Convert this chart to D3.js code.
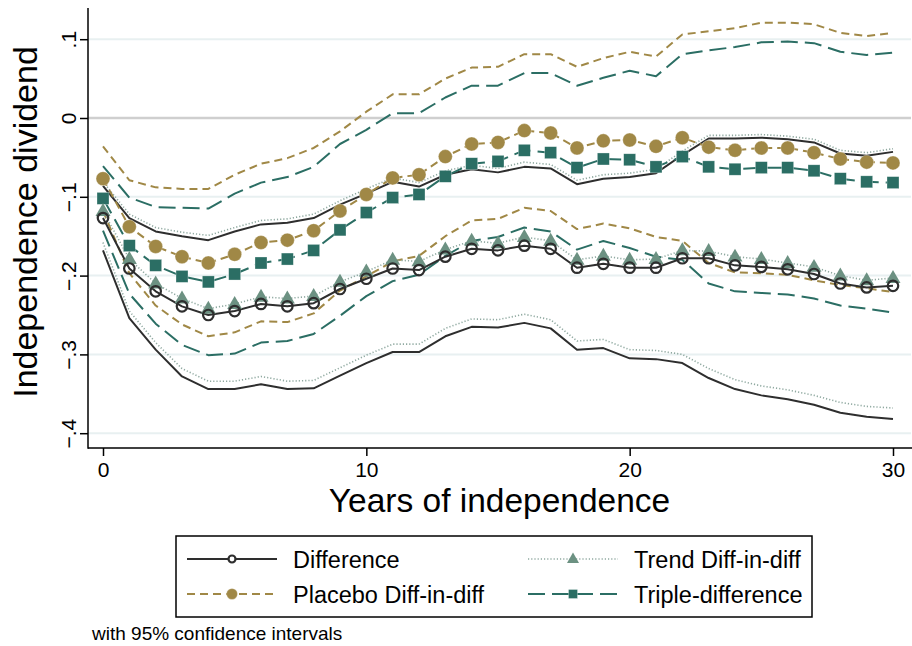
<!DOCTYPE html>
<html><head><meta charset="utf-8">
<script src="https://cdn.jsdelivr.net/npm/d3@7"></script>
<style>body{margin:0;background:#fff}svg{display:block;font-family:"Liberation Sans",Arial,Helvetica,sans-serif}</style>
</head><body><svg id="c" width="912" height="646"></svg>
<script>
const years = [0,1,2,3,4,5,6,7,8,9,10,11,12,13,14,15,16,17,18,19,20,21,22,23,24,25,26,27,28,29,30];
const yTicks = [-0.4,-0.3,-0.2,-0.1,0,0.1];
const xTicks = [0,10,20,30];

const diffEst = [-0.127,-0.191,-0.220,-0.239,-0.250,-0.245,-0.236,-0.239,-0.235,-0.217,-0.204,-0.191,-0.193,-0.176,-0.166,-0.168,-0.162,-0.166,-0.190,-0.185,-0.190,-0.190,-0.178,-0.178,-0.187,-0.189,-0.192,-0.198,-0.210,-0.215,-0.213];
const diffHi  = [-0.086,-0.127,-0.144,-0.150,-0.155,-0.144,-0.135,-0.133,-0.127,-0.110,-0.096,-0.081,-0.087,-0.072,-0.065,-0.069,-0.062,-0.064,-0.084,-0.077,-0.075,-0.070,-0.047,-0.026,-0.026,-0.025,-0.027,-0.031,-0.045,-0.048,-0.043];
const diffLo  = [-0.168,-0.254,-0.294,-0.328,-0.344,-0.344,-0.338,-0.344,-0.343,-0.327,-0.311,-0.297,-0.297,-0.277,-0.265,-0.266,-0.260,-0.267,-0.294,-0.292,-0.305,-0.306,-0.311,-0.330,-0.344,-0.352,-0.357,-0.364,-0.374,-0.379,-0.382];

const trendEst = [-0.118,-0.179,-0.210,-0.229,-0.242,-0.236,-0.227,-0.229,-0.226,-0.208,-0.195,-0.180,-0.182,-0.167,-0.156,-0.159,-0.151,-0.156,-0.180,-0.175,-0.180,-0.179,-0.168,-0.169,-0.176,-0.179,-0.184,-0.189,-0.200,-0.206,-0.203];
const trendHi  = [-0.081,-0.122,-0.139,-0.145,-0.149,-0.139,-0.130,-0.128,-0.122,-0.105,-0.090,-0.076,-0.082,-0.067,-0.060,-0.064,-0.056,-0.059,-0.079,-0.072,-0.070,-0.065,-0.042,-0.022,-0.022,-0.021,-0.023,-0.027,-0.041,-0.044,-0.039];
const trendLo  = [-0.158,-0.245,-0.285,-0.318,-0.334,-0.334,-0.328,-0.334,-0.333,-0.317,-0.301,-0.287,-0.287,-0.267,-0.255,-0.256,-0.249,-0.256,-0.283,-0.281,-0.294,-0.295,-0.300,-0.318,-0.332,-0.340,-0.345,-0.352,-0.361,-0.366,-0.368];

const placEst = [-0.077,-0.138,-0.163,-0.176,-0.184,-0.173,-0.158,-0.155,-0.143,-0.118,-0.097,-0.076,-0.072,-0.049,-0.033,-0.031,-0.016,-0.019,-0.038,-0.029,-0.028,-0.036,-0.025,-0.037,-0.041,-0.038,-0.038,-0.044,-0.052,-0.056,-0.057];
const placHi  = [-0.036,-0.079,-0.088,-0.090,-0.090,-0.072,-0.058,-0.051,-0.038,-0.017,0.008,0.030,0.030,0.050,0.064,0.065,0.081,0.081,0.065,0.076,0.084,0.078,0.106,0.110,0.114,0.121,0.121,0.119,0.108,0.104,0.108];
const placLo  = [-0.118,-0.197,-0.238,-0.262,-0.277,-0.272,-0.258,-0.259,-0.248,-0.219,-0.201,-0.182,-0.175,-0.150,-0.130,-0.128,-0.114,-0.118,-0.141,-0.134,-0.140,-0.151,-0.156,-0.184,-0.196,-0.197,-0.199,-0.206,-0.212,-0.216,-0.221];

const tripEst = [-0.102,-0.162,-0.187,-0.201,-0.208,-0.198,-0.184,-0.179,-0.168,-0.142,-0.120,-0.101,-0.097,-0.074,-0.058,-0.055,-0.041,-0.044,-0.063,-0.052,-0.053,-0.062,-0.049,-0.062,-0.065,-0.063,-0.063,-0.067,-0.077,-0.081,-0.082];
const tripHi  = [-0.061,-0.101,-0.113,-0.114,-0.115,-0.096,-0.082,-0.075,-0.062,-0.033,-0.015,0.006,0.006,0.026,0.041,0.041,0.057,0.057,0.041,0.051,0.060,0.053,0.081,0.086,0.090,0.096,0.097,0.095,0.084,0.080,0.083];
const tripLo  = [-0.143,-0.223,-0.261,-0.288,-0.301,-0.299,-0.285,-0.283,-0.274,-0.251,-0.226,-0.207,-0.199,-0.175,-0.156,-0.151,-0.139,-0.144,-0.167,-0.156,-0.165,-0.176,-0.180,-0.210,-0.220,-0.222,-0.224,-0.229,-0.238,-0.242,-0.247];

const seriesNames = ["Difference","Trend Diff-in-diff","Placebo Diff-in-diff","Triple-difference"];

const svg = d3.select("#c");
const x = d3.scaleLinear().domain([0,30]).range([103,893]);
const y = d3.scaleLinear().domain([-0.4,0.1]).range([433.2,39.2]);
const L = 88, R = 911, T = 8, B = 448;

const C = {
  diff:"#2e2e2e", trend:"#6c9182", trendLine:"#8fa9a0", plac:"#a08846", trip:"#2b6e64", grid:"#e8f0f1", zero:"#cfcfcf"
};

// gridlines
svg.append("g").selectAll("line").data(yTicks.filter(v=>v!==0)).join("line")
  .attr("x1",L).attr("x2",R).attr("y1",d=>y(d)).attr("y2",d=>y(d))
  .attr("stroke",C.grid).attr("stroke-width",2);
svg.append("line").attr("x1",L).attr("x2",R).attr("y1",y(0)).attr("y2",y(0))
  .attr("stroke",C.zero).attr("stroke-width",2.5);

const line = d3.line().x((d,i)=>x(years[i])).y(d=>y(d));
const plot = svg.append("g");

function drawLine(data, color, width, dash){
  plot.append("path").attr("d",line(data)).attr("fill","none")
    .attr("stroke",color).attr("stroke-width",width)
    .attr("stroke-dasharray",dash||null).attr("stroke-linejoin","round");
}

const specs = [
  {lo:tripLo, hi:tripHi, est:tripEst, color:C.trip, lc:C.trip, w:2, dash:"17,7", m:"square", size:12},
  {lo:placLo, hi:placHi, est:placEst, color:C.plac, lc:C.plac, w:2, dash:"8,5", m:"circlef", size:14},
  {lo:trendLo, hi:trendHi, est:trendEst, color:C.trend, lc:C.trendLine, w:1.6, dash:"1.2,2", m:"triangle", size:15},
  {lo:diffLo, hi:diffHi, est:diffEst, color:C.diff, lc:C.diff, w:2, dash:null, m:"circleo", size:12.5}
];

specs.forEach(s=>{ drawLine(s.lo, s.lc, s.w, s.dash); drawLine(s.hi, s.lc, s.w, s.dash); });
specs.forEach(s=>{ drawLine(s.est, s.lc, s.w, s.dash); });

function marker(g, type, cx, cy, size, color){
  if(type==="square"){
    g.append("rect").attr("x",cx-size/2).attr("y",cy-size/2).attr("width",size).attr("height",size)
      .attr("fill",color).attr("stroke","#ffffff").attr("stroke-width",0.6).attr("stroke-opacity",0.5);
  } else if(type==="circlef"){
    g.append("circle").attr("cx",cx).attr("cy",cy).attr("r",size/2).attr("fill",color)
      .attr("stroke","#ffffff").attr("stroke-width",0.6).attr("stroke-opacity",0.5);
  } else if(type==="circleo"){
    g.append("circle").attr("cx",cx).attr("cy",cy).attr("r",size/2-1).attr("fill","none")
      .attr("stroke",color).attr("stroke-width",2.2);
  } else {
    const h = size*0.866;
    g.append("path").attr("d",`M${cx},${cy-h*0.62}L${cx+size/2},${cy+h*0.38}L${cx-size/2},${cy+h*0.38}Z`)
      .attr("fill",color);
  }
}
specs.forEach(s=>{
  const g = plot.append("g");
  s.est.forEach((v,i)=>marker(g, s.m, x(years[i]), y(v), s.size, s.color));
});

// axes
const yAxis = d3.axisLeft(y).tickValues(yTicks).tickSize(8).tickSizeOuter(0)
  .tickFormat(v=> v===0 ? "0" : d3.format(".1f")(v).replace("0.","."));
const gy = svg.append("g").attr("transform",`translate(${L},0)`).call(yAxis);
gy.select(".domain").remove();
gy.selectAll("line").attr("stroke","#000").attr("stroke-width",1.5);
gy.selectAll("text").attr("font-size",21).attr("fill","#000")
  .attr("text-anchor","middle").attr("dy",null).attr("x",null)
  .attr("transform",function(d){return `translate(-12,${0}) rotate(-90)`;})
  .attr("y",0);

const xAxis = d3.axisBottom(x).tickValues(xTicks).tickSize(8).tickSizeOuter(0);
const gx = svg.append("g").attr("transform",`translate(0,${B})`).call(xAxis);
gx.select(".domain").remove();
gx.selectAll("line").attr("stroke","#000").attr("stroke-width",1.5);
gx.selectAll("text").attr("font-size",21).attr("fill","#000").attr("dy",null).attr("y",29);

svg.append("line").attr("x1",L).attr("x2",L).attr("y1",T).attr("y2",B+0.75).attr("stroke","#000").attr("stroke-width",1.5);
svg.append("line").attr("x1",L).attr("x2",R+1).attr("y1",B).attr("y2",B).attr("stroke","#000").attr("stroke-width",1.5);

// titles
svg.append("text").attr("x",(L+R)/2).attr("y",512).attr("text-anchor","middle")
  .attr("font-size",33.5).attr("fill","#000").text("Years of independence");
svg.append("text").attr("transform",`translate(37,${222}) rotate(-90)`).attr("text-anchor","middle")
  .attr("font-size",34).attr("fill","#000").text("Independence dividend");

// legend
const lg = svg.append("g");
lg.append("rect").attr("x",176).attr("y",536).attr("width",636).attr("height",81)
  .attr("fill","#fff").attr("stroke","#000").attr("stroke-width",1.5);
const legendItems = [
  {name:seriesNames[0], s:specs[3], lx:187, row:0, ms:9},
  {name:seriesNames[1], s:specs[2], lx:528, row:0, ms:12},
  {name:seriesNames[2], s:specs[1], lx:187, row:1, ms:11},
  {name:seriesNames[3], s:specs[0], lx:528, row:1, ms:9}
];
legendItems.forEach(it=>{
  const cy = 559 + it.row*35;
  const g = lg.append("g");
  g.append("line").attr("x1",it.lx).attr("x2",it.lx+90).attr("y1",cy).attr("y2",cy)
    .attr("stroke",it.s.lc).attr("stroke-width",it.s.w).attr("stroke-dasharray",it.s.dash||null);
  marker(g, it.s.m, it.lx+45, cy, it.ms, it.s.color);
  if(it.s.m==="circleo") g.select("circle").attr("fill","#fff");
  g.append("text").attr("x",it.lx+106).attr("y",cy+8.5).attr("font-size",23.5).attr("fill","#000").text(it.name);
});

svg.append("text").attr("x",92).attr("y",640).attr("font-size",19).attr("fill","#000").text("with 95% confidence intervals");
</script></body></html>
